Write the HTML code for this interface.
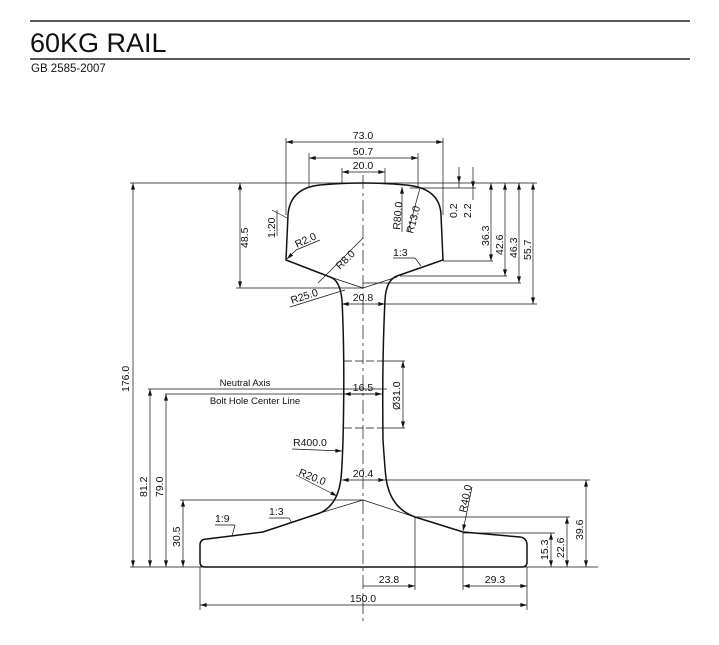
<!DOCTYPE html>
<html><head><meta charset="utf-8"><style>
html,body{margin:0;padding:0;background:#fff;}
svg{display:block;}
text{font-family:"Liberation Sans",sans-serif;fill:#111;}
</style></head><body>
<svg width="719" height="645" viewBox="0 0 719 645" xmlns="http://www.w3.org/2000/svg">
<defs>
<marker id="a" viewBox="0 0 10 6" refX="10" refY="3" markerWidth="7" markerHeight="4" orient="auto-start-reverse" markerUnits="userSpaceOnUse"><path d="M0,0 L10,3 L0,6 z" fill="#111"/></marker>
</defs>
<line x1="30" y1="21" x2="690" y2="21" stroke="#222" stroke-width="1.5"/>
<line x1="30" y1="59" x2="690" y2="59" stroke="#222" stroke-width="1.5"/>
<text x="30" y="52" font-size="27">60KG RAIL</text>
<text x="31" y="72" font-size="11.5" fill="#333">GB 2585-2007</text>

<g stroke="#111" stroke-width="0.7" fill="none">
<line x1="363" y1="175" x2="363" y2="625" stroke-dasharray="14,4,3,4"/>
<line x1="130" y1="183" x2="537" y2="183"/>
<line x1="130" y1="567" x2="598" y2="567"/>
<line x1="286" y1="138" x2="286" y2="215"/>
<line x1="443" y1="138" x2="443" y2="215"/>
<line x1="309" y1="153" x2="309" y2="188"/>
<line x1="418" y1="153" x2="418" y2="188"/>
<line x1="342" y1="168" x2="342" y2="183"/>
<line x1="385" y1="168" x2="385" y2="183"/>
<line x1="286" y1="142" x2="443" y2="142" marker-start="url(#a)" marker-end="url(#a)"/>
<line x1="309" y1="158" x2="418" y2="158" marker-start="url(#a)" marker-end="url(#a)"/>
<line x1="342" y1="172" x2="385" y2="172" marker-start="url(#a)" marker-end="url(#a)"/>
<line x1="410" y1="188" x2="476" y2="188"/>
<line x1="459" y1="167" x2="459" y2="183" marker-end="url(#a)"/>
<line x1="459" y1="183" x2="459" y2="188"/>
<line x1="473" y1="167" x2="473" y2="188" marker-end="url(#a)"/>
<line x1="473" y1="188" x2="473" y2="200"/>
<line x1="443" y1="261" x2="493" y2="261"/>
<line x1="400" y1="276" x2="507" y2="276"/>
<line x1="363" y1="283" x2="521" y2="283"/>
<line x1="385" y1="304" x2="537" y2="304"/>
<line x1="491" y1="183" x2="491" y2="261" marker-start="url(#a)" marker-end="url(#a)"/>
<line x1="505" y1="183" x2="505" y2="276" marker-start="url(#a)" marker-end="url(#a)"/>
<line x1="519" y1="183" x2="519" y2="283" marker-start="url(#a)" marker-end="url(#a)"/>
<line x1="533" y1="183" x2="533" y2="304" marker-start="url(#a)" marker-end="url(#a)"/>
<line x1="330" y1="277" x2="363" y2="288"/>
<line x1="397" y1="277" x2="363" y2="288"/>
<line x1="236" y1="288" x2="363" y2="288"/>
<line x1="240" y1="183" x2="240" y2="288" marker-start="url(#a)" marker-end="url(#a)"/>
<line x1="342" y1="304" x2="385" y2="304" marker-start="url(#a)" marker-end="url(#a)"/>
<!-- 1:20 leader -->
<line x1="277" y1="236" x2="277" y2="210"/>
<line x1="272" y1="210" x2="287" y2="218"/>
<line x1="296" y1="250" x2="320" y2="240"/>
<line x1="296" y1="250" x2="287" y2="259" marker-end="url(#a)"/>
<line x1="318" y1="283" x2="363" y2="238"/>
<line x1="290" y1="307" x2="335" y2="293"/>
<line x1="335" y1="293" x2="345" y2="290"/>
<line x1="402" y1="232" x2="402" y2="187" marker-end="url(#a)"/>
<line x1="408" y1="232" x2="420" y2="188"/>
<line x1="393" y1="258" x2="415" y2="258"/>
<line x1="415" y1="258" x2="421" y2="266"/>
<line x1="344" y1="361" x2="382" y2="361" stroke-dasharray="8,3"/>
<line x1="344" y1="428" x2="382" y2="428" stroke-dasharray="8,3"/>
<line x1="382" y1="361" x2="405" y2="361"/>
<line x1="382" y1="428" x2="405" y2="428"/>
<line x1="403" y1="361" x2="403" y2="428" marker-start="url(#a)" marker-end="url(#a)"/>
<line x1="148" y1="389" x2="387" y2="389"/>
<line x1="165" y1="394" x2="380" y2="394"/>
<line x1="344" y1="394" x2="382" y2="394" marker-start="url(#a)" marker-end="url(#a)"/>
<line x1="150" y1="389" x2="150" y2="567" marker-start="url(#a)" marker-end="url(#a)"/>
<line x1="166" y1="394" x2="166" y2="567" marker-start="url(#a)" marker-end="url(#a)"/>
<line x1="133" y1="183" x2="133" y2="567" marker-start="url(#a)" marker-end="url(#a)"/>
<line x1="180" y1="500" x2="363" y2="500"/>
<line x1="183" y1="500" x2="183" y2="567" marker-start="url(#a)" marker-end="url(#a)"/>
<line x1="363" y1="500" x2="320" y2="513"/>
<line x1="363" y1="500" x2="415" y2="517"/>
<line x1="292" y1="449" x2="342" y2="451" marker-end="url(#a)"/>
<line x1="296" y1="475" x2="337" y2="496" marker-end="url(#a)"/>
<line x1="342" y1="480" x2="385" y2="480" marker-start="url(#a)" marker-end="url(#a)"/>
<line x1="385" y1="480" x2="590" y2="480"/>
<line x1="415" y1="517" x2="570" y2="517"/>
<line x1="463" y1="533" x2="555" y2="533"/>
<line x1="586" y1="480" x2="586" y2="567" marker-start="url(#a)" marker-end="url(#a)"/>
<line x1="567" y1="517" x2="567" y2="567" marker-start="url(#a)" marker-end="url(#a)"/>
<line x1="551" y1="533" x2="551" y2="567" marker-start="url(#a)" marker-end="url(#a)"/>
<line x1="472" y1="487" x2="463" y2="531" marker-end="url(#a)"/>
<line x1="215" y1="525" x2="235" y2="525"/>
<line x1="235" y1="525" x2="232" y2="536"/>
<line x1="269" y1="518" x2="289" y2="518"/>
<line x1="289" y1="518" x2="292" y2="523"/>
<line x1="200" y1="567" x2="200" y2="610"/>
<line x1="527" y1="567" x2="527" y2="610"/>
<line x1="415" y1="517" x2="415" y2="590"/>
<line x1="463" y1="533" x2="463" y2="590"/>
<line x1="363" y1="586" x2="415" y2="586" marker-end="url(#a)"/>
<line x1="463" y1="586" x2="527" y2="586" marker-start="url(#a)" marker-end="url(#a)"/>
<line x1="200" y1="605" x2="527" y2="605" marker-start="url(#a)" marker-end="url(#a)"/>
</g>
<path d="M286,260 L288,215 Q290,188 320,185 Q363,181 406,185 Q440,188 441,215 L443,260 L397,276 Q386,280 385,300 Q382,360 383,440 Q385,470 386,478 Q390,508 415,517 L463,532 L520,537 Q527,538 527,545 L527,562 Q527,567 522,567 L205,567 Q200,567 200,562 L200,545 Q200,539 207,539 L263,532 L320,513 Q338,505 341,478 Q342,470 343,440 Q345,360 342,300 Q340,280 330,277 Z" fill="none" stroke="#111" stroke-width="1.5"/>

<g font-size="10.5">
<text x="363" y="139" text-anchor="middle">73.0</text>
<text x="363" y="155" text-anchor="middle">50.7</text>
<text x="363" y="169" text-anchor="middle">20.0</text>
<text x="363" y="301" text-anchor="middle">20.8</text>
<text x="363" y="391" text-anchor="middle">16.5</text>
<text x="363" y="477" text-anchor="middle">20.4</text>
<text x="389" y="583" text-anchor="middle">23.8</text>
<text x="495" y="583" text-anchor="middle">29.3</text>
<text x="363" y="602" text-anchor="middle">150.0</text>
<text x="245" y="386" text-anchor="middle" font-size="9.5">Neutral Axis</text>
<text x="255" y="404" text-anchor="middle" font-size="9.5">Bolt Hole Center Line</text>
<text x="293" y="446">R400.0</text>
<text x="215" y="522">1:9</text>
<text x="269" y="515">1:3</text>
<text x="393" y="256">1:3</text>
<text transform="translate(298,475) rotate(22)">R20.0</text>
<text transform="translate(466,513) rotate(-78)">R40.0</text>
<text transform="translate(292,304) rotate(-18)">R25.0</text>
<text transform="translate(297,248) rotate(-25)">R2.0</text>
<text transform="translate(340,270) rotate(-45)">R8.0</text>
<text transform="translate(400,230) rotate(-85)">R80.0</text>
<text transform="translate(413,234) rotate(-75)">R13.0</text>
<text transform="translate(275,238) rotate(-90)">1:20</text>
<text transform="translate(248,248) rotate(-90)">48.5</text>
<text transform="translate(129,392) rotate(-90)">176.0</text>
<text transform="translate(147,497) rotate(-90)">81.2</text>
<text transform="translate(163,497) rotate(-90)">79.0</text>
<text transform="translate(180,547) rotate(-90)">30.5</text>
<text transform="translate(400,410) rotate(-90)">Ø31.0</text>
<text transform="translate(457,218) rotate(-90)">0.2</text>
<text transform="translate(471,218) rotate(-90)">2.2</text>
<text transform="translate(489,246) rotate(-90)">36.3</text>
<text transform="translate(503,255) rotate(-90)">42.6</text>
<text transform="translate(517,258) rotate(-90)">46.3</text>
<text transform="translate(531,260) rotate(-90)">55.7</text>
<text transform="translate(583,540) rotate(-90)">39.6</text>
<text transform="translate(564,558) rotate(-90)">22.6</text>
<text transform="translate(548,560) rotate(-90)">15.3</text>
</g>
</svg>
</body></html>
